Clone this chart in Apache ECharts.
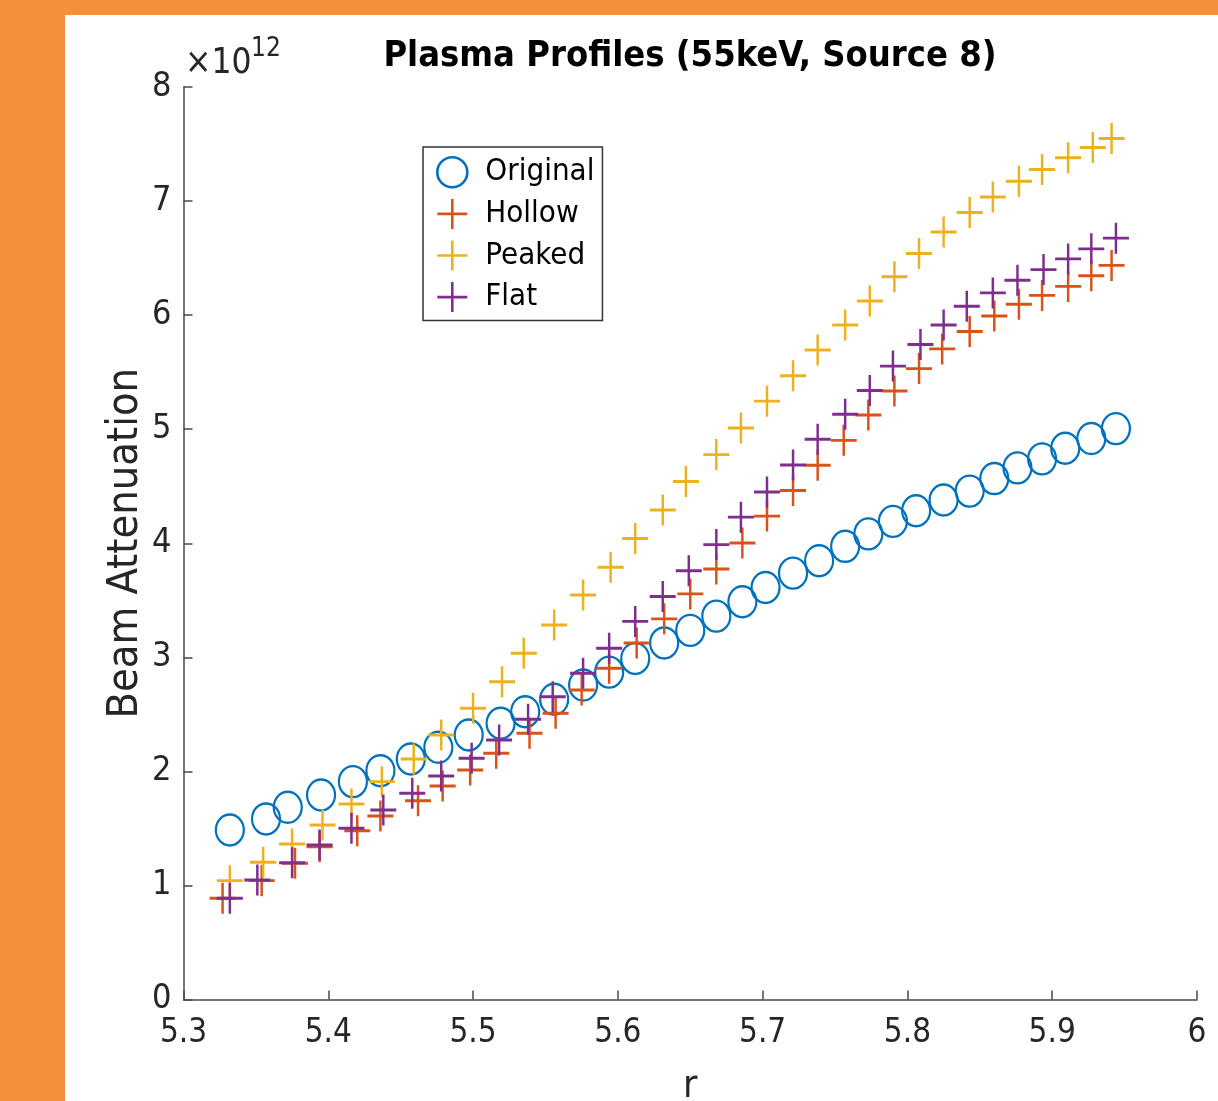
<!DOCTYPE html>
<html>
<head>
<meta charset="utf-8">
<script src="https://cdn.jsdelivr.net/npm/echarts/dist/echarts.min.js"></script>
<style>
html,body{margin:0;padding:0;background:#fff;}
#chart{position:absolute;left:0;top:0;width:1218px;height:1101px;}
</style>
</head>
<body>
<div id="chart"></div>
<script>
// r values (per series)
const rOriginal = [5.332,5.357,5.372,5.395,5.417,5.436,5.457,5.476,5.497,5.519,5.536,5.556,5.576,5.594,5.612,5.632,5.650,5.668,5.686,5.702,5.721,5.739,5.757,5.773,5.790,5.806,5.825,5.843,5.860,5.876,5.893,5.909,5.927,5.944];
const rHollow   = [5.327,5.354,5.377,5.394,5.420,5.436,5.462,5.479,5.498,5.516,5.539,5.557,5.575,5.594,5.613,5.632,5.650,5.668,5.686,5.703,5.721,5.738,5.756,5.773,5.791,5.808,5.824,5.843,5.860,5.877,5.893,5.911,5.927,5.941];
const rPeaked   = [5.332,5.355,5.375,5.396,5.416,5.437,5.459,5.478,5.500,5.520,5.535,5.556,5.576,5.595,5.612,5.631,5.647,5.668,5.685,5.703,5.721,5.738,5.757,5.774,5.791,5.808,5.825,5.843,5.859,5.877,5.893,5.911,5.928,5.941];
const rFlat     = [5.332,5.351,5.375,5.394,5.416,5.438,5.458,5.478,5.499,5.518,5.538,5.555,5.576,5.594,5.612,5.631,5.649,5.668,5.685,5.703,5.721,5.738,5.757,5.774,5.790,5.809,5.825,5.841,5.859,5.876,5.894,5.911,5.927,5.944];

// Beam attenuation values, in units of 10^12
const attOriginal = [1.486,1.583,1.685,1.793,1.910,2.006,2.109,2.211,2.319,2.422,2.523,2.632,2.757,2.870,2.990,3.126,3.236,3.361,3.487,3.612,3.738,3.847,3.973,4.082,4.192,4.285,4.379,4.457,4.567,4.661,4.740,4.833,4.918,5.005];
const attHollow   = [0.887,1.042,1.194,1.340,1.480,1.609,1.743,1.872,2.012,2.159,2.334,2.509,2.713,2.904,3.126,3.337,3.556,3.775,4.003,4.238,4.463,4.683,4.902,5.125,5.334,5.531,5.704,5.857,5.992,6.095,6.173,6.252,6.346,6.436];
const attPeaked   = [1.042,1.203,1.363,1.530,1.714,1.910,2.109,2.319,2.553,2.786,3.035,3.283,3.546,3.790,4.041,4.292,4.542,4.777,5.011,5.246,5.469,5.694,5.914,6.123,6.336,6.540,6.728,6.900,7.035,7.173,7.276,7.379,7.470,7.548];
const attFlat     = [0.887,1.048,1.199,1.355,1.501,1.661,1.808,1.960,2.115,2.275,2.457,2.655,2.860,3.079,3.315,3.534,3.759,3.988,4.229,4.449,4.686,4.911,5.131,5.340,5.553,5.742,5.914,6.077,6.195,6.305,6.399,6.493,6.581,6.675];

const seriesNames = ['Original','Hollow','Peaked','Flat'];
const titleText = 'Plasma Profiles (55keV, Source 8)';
const xName = 'r';
const yName = 'Beam Attenuation';

const F = "'DejaVu Sans Condensed', 'Liberation Sans Narrow', 'DejaVu Sans', sans-serif";
const AX = '#4a4a4a';
const crossPath = 'path://M0,-10L0,10M-10,0L10,0';

const pairs = (xs, ys) => xs.map((x, i) => [x, ys[i]]);

const chart = echarts.init(document.getElementById('chart'), null, {renderer: 'canvas'});
chart.setOption({
  backgroundColor: '#ffffff',
  animation: false,
  title: {
    text: titleText, left: 690, top: 39, textAlign: 'center', textVerticalAlign: 'top', padding: 0,
    textStyle: {fontSize: 36, fontWeight: 'bold', color: '#000', fontFamily: F}
  },
  grid: {left: 183.5, right: 21, top: 87, bottom: 101.5, containLabel: false, outerBoundsMode: 'none'},
  legend: {
    orient: 'vertical', left: 423, top: 147,
    data: seriesNames,
    itemWidth: 56, itemHeight: 30, itemGap: 9,
    padding: [9, 8, 7, 13],
    borderColor: '#333', borderWidth: 1.5, backgroundColor: '#fff', borderRadius: 0,
    textStyle: {fontSize: 31, color: '#000', fontFamily: F},
    itemStyle: {borderWidth: 2.6, opacity: 1},
    selectedMode: false
  },
  xAxis: {
    type: 'value', min: 5.3, max: 6, interval: 0.1,
    name: xName, nameLocation: 'middle', nameGap: 68, nameMoveOverlap: false,
    nameTextStyle: {fontSize: 39, color: '#262626', fontFamily: F},
    axisLine: {show: true, onZero: false, lineStyle: {color: AX, width: 1.5}},
    axisTick: {show: true, inside: true, length: 9, lineStyle: {color: AX, width: 1.5}},
    splitLine: {show: false},
    axisLabel: {fontSize: 33, color: '#262626', fontFamily: F, margin: 17,
      formatter: v => String(+(+v).toFixed(1))}
  },
  yAxis: {
    type: 'value', min: 0, max: 8, interval: 1,
    name: yName, nameLocation: 'middle', nameGap: 36, nameRotate: 90, nameMoveOverlap: false,
    nameTextStyle: {fontSize: 43, color: '#262626', fontFamily: F},
    axisLine: {show: true, onZero: false, lineStyle: {color: AX, width: 1.5}},
    axisTick: {show: true, inside: true, length: 9, lineStyle: {color: AX, width: 1.5}},
    splitLine: {show: false},
    axisLabel: {fontSize: 34, color: '#262626', fontFamily: F, margin: 12,
      formatter: v => String(Math.round(v))}
  },
  graphic: [
    {type: 'rect', shape: {x: 0, y: 0, width: 65, height: 1101}, style: {fill: '#F58F3A'}, z: 100, silent: true},
    {type: 'rect', shape: {x: 0, y: 0, width: 1218, height: 15}, style: {fill: '#F58F3A'}, z: 100, silent: true},
    {type: 'text', x: 185, y: 64, style: {text: '×10', fontSize: 35, fontFamily: F, fill: '#262626', verticalAlign: 'middle', align: 'left'}, z: 100},
    {type: 'text', x: 251, y: 49, style: {text: '12', fontSize: 26, fontFamily: F, fill: '#262626', verticalAlign: 'middle', align: 'left'}, z: 100}
  ],
  series: [
    {
      type: 'scatter', name: seriesNames[0], data: pairs(rOriginal, attOriginal),
      symbol: 'circle', symbolSize: [28, 31],
      itemStyle: {color: 'rgba(0,0,0,0)', borderColor: '#0072BD', borderWidth: 2.3, opacity: 1},
      emphasis: {disabled: true}
    },
    {
      type: 'scatter', name: seriesNames[1], data: pairs(rHollow, attHollow),
      symbol: crossPath, symbolSize: [26, 31],
      itemStyle: {color: 'rgba(0,0,0,0)', borderColor: '#D95319', borderWidth: 2.7, opacity: 1},
      emphasis: {disabled: true}
    },
    {
      type: 'scatter', name: seriesNames[2], data: pairs(rPeaked, attPeaked),
      symbol: crossPath, symbolSize: [26, 31],
      itemStyle: {color: 'rgba(0,0,0,0)', borderColor: '#EDB120', borderWidth: 2.7, opacity: 1},
      emphasis: {disabled: true}
    },
    {
      type: 'scatter', name: seriesNames[3], data: pairs(rFlat, attFlat),
      symbol: crossPath, symbolSize: [26, 31],
      itemStyle: {color: 'rgba(0,0,0,0)', borderColor: '#7E2F8E', borderWidth: 2.7, opacity: 1},
      emphasis: {disabled: true}
    }
  ]
});
</script>
</body>
</html>
